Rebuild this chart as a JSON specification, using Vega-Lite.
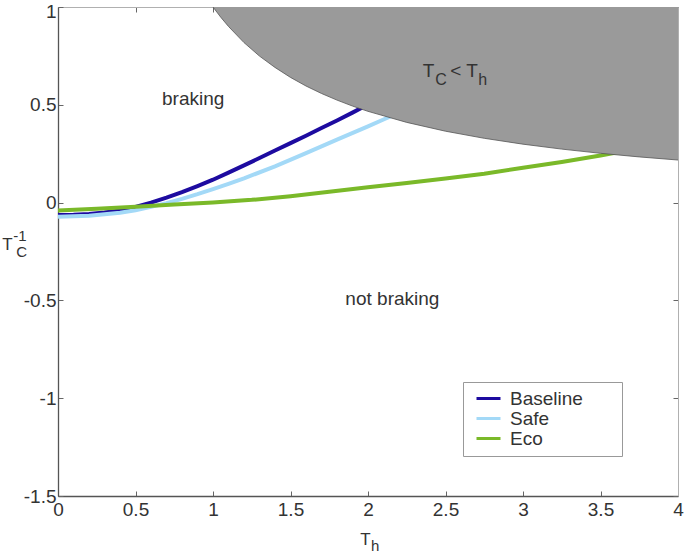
{
  "$schema": "https://vega.github.io/schema/vega-lite/v6.json",
  "autosize": {"type": "none"},
  "padding": {"left": 58, "top": 7, "right": 7, "bottom": 60},
  "width": 620,
  "height": 489,
  "config": {"font": "Liberation Sans", "view": {"stroke": null}},
  "datasets": {
    "curves": [
      {"series": "Baseline", "x": 0, "y": -0.064},
      {"series": "Baseline", "x": 0.1, "y": -0.062},
      {"series": "Baseline", "x": 0.2, "y": -0.058},
      {"series": "Baseline", "x": 0.3, "y": -0.051},
      {"series": "Baseline", "x": 0.4, "y": -0.04},
      {"series": "Baseline", "x": 0.5, "y": -0.022},
      {"series": "Baseline", "x": 0.6, "y": 0.0},
      {"series": "Baseline", "x": 0.7, "y": 0.025},
      {"series": "Baseline", "x": 0.8, "y": 0.053},
      {"series": "Baseline", "x": 0.9, "y": 0.084},
      {"series": "Baseline", "x": 1.0, "y": 0.117},
      {"series": "Baseline", "x": 1.1, "y": 0.153},
      {"series": "Baseline", "x": 1.2, "y": 0.19},
      {"series": "Baseline", "x": 1.3, "y": 0.228},
      {"series": "Baseline", "x": 1.4, "y": 0.266},
      {"series": "Baseline", "x": 1.5, "y": 0.304},
      {"series": "Baseline", "x": 1.6, "y": 0.342},
      {"series": "Baseline", "x": 1.7, "y": 0.381},
      {"series": "Baseline", "x": 1.8, "y": 0.42},
      {"series": "Baseline", "x": 1.9, "y": 0.46},
      {"series": "Baseline", "x": 1.96, "y": 0.485},
      {"series": "Safe", "x": 0, "y": -0.072},
      {"series": "Safe", "x": 0.2, "y": -0.067},
      {"series": "Safe", "x": 0.4, "y": -0.052},
      {"series": "Safe", "x": 0.5, "y": -0.039},
      {"series": "Safe", "x": 0.6, "y": -0.022},
      {"series": "Safe", "x": 0.7, "y": -0.003},
      {"series": "Safe", "x": 0.8, "y": 0.019},
      {"series": "Safe", "x": 0.9, "y": 0.043},
      {"series": "Safe", "x": 1.0, "y": 0.069},
      {"series": "Safe", "x": 1.1, "y": 0.096},
      {"series": "Safe", "x": 1.2, "y": 0.124},
      {"series": "Safe", "x": 1.4, "y": 0.185},
      {"series": "Safe", "x": 1.6, "y": 0.253},
      {"series": "Safe", "x": 1.8, "y": 0.322},
      {"series": "Safe", "x": 2.0, "y": 0.39},
      {"series": "Safe", "x": 2.1, "y": 0.425},
      {"series": "Safe", "x": 2.2, "y": 0.46},
      {"series": "Eco", "x": 0, "y": -0.04},
      {"series": "Eco", "x": 0.25, "y": -0.032},
      {"series": "Eco", "x": 0.5, "y": -0.021},
      {"series": "Eco", "x": 0.75, "y": -0.01},
      {"series": "Eco", "x": 1.0, "y": 0.0},
      {"series": "Eco", "x": 1.25, "y": 0.014},
      {"series": "Eco", "x": 1.5, "y": 0.033},
      {"series": "Eco", "x": 1.75, "y": 0.055},
      {"series": "Eco", "x": 2.0, "y": 0.078},
      {"series": "Eco", "x": 2.25, "y": 0.1},
      {"series": "Eco", "x": 2.5, "y": 0.123},
      {"series": "Eco", "x": 2.75, "y": 0.148},
      {"series": "Eco", "x": 3.0, "y": 0.178},
      {"series": "Eco", "x": 3.25, "y": 0.208},
      {"series": "Eco", "x": 3.5, "y": 0.241},
      {"series": "Eco", "x": 3.62, "y": 0.258}
    ],
    "boundary": [
      {"x": 1.0, "y": 1.0},
      {"x": 1.05, "y": 0.9477},
      {"x": 1.1, "y": 0.9005},
      {"x": 1.2, "y": 0.818},
      {"x": 1.3, "y": 0.749},
      {"x": 1.4, "y": 0.691},
      {"x": 1.5, "y": 0.64},
      {"x": 1.6, "y": 0.596},
      {"x": 1.7, "y": 0.5578},
      {"x": 1.8, "y": 0.524},
      {"x": 1.9, "y": 0.4936},
      {"x": 2.0, "y": 0.4665},
      {"x": 2.25, "y": 0.41},
      {"x": 2.5, "y": 0.365},
      {"x": 2.75, "y": 0.3287},
      {"x": 3.0, "y": 0.2987},
      {"x": 3.25, "y": 0.2735},
      {"x": 3.5, "y": 0.252},
      {"x": 3.75, "y": 0.2336},
      {"x": 4.0, "y": 0.2177}
    ],
    "labels": [
      {"role": "main", "text": "braking", "x": 0.671, "y": 0.5},
      {"role": "main", "text": "not braking", "x": 1.854, "y": -0.523},
      {"role": "main", "text": "T", "x": 2.354, "y": 0.641},
      {"role": "main", "text": "< T", "x": 2.531, "y": 0.641},
      {"role": "sub", "text": "C", "x": 2.434, "y": 0.602},
      {"role": "sub", "text": "h", "x": 2.711, "y": 0.602},
      {"role": "title", "text": "T", "x": -0.36, "y": -0.242},
      {"role": "title", "text": "T", "x": 1.95, "y": -1.751},
      {"role": "titlesub", "text": "-1", "x": -0.288, "y": -0.194},
      {"role": "titlesub", "text": "C", "x": -0.269, "y": -0.28},
      {"role": "titlesub", "text": "h", "x": 2.019, "y": -1.78}
    ]
  },
  "resolve": {"axis": {"x": "independent", "y": "independent"}},
  "layer": [
    {
      "data": {"name": "curves"},
      "mark": {"type": "line", "strokeWidth": 4},
      "encoding": {
        "x": {"field": "x", "type": "quantitative", "scale": {"domain": [0, 4], "nice": false, "zero": false},
          "axis": {"orient": "bottom", "values": [0, 0.5, 1, 1.5, 2, 2.5, 3, 3.5, 4], "labelExpr": "'' + datum.value", "title": null, "grid": false,
            "labelFontSize": 19, "labelColor": "#333", "labelPadding": 9, "labelFlush": false, "labelOverlap": false,
            "tickSize": -5, "tickColor": "#666", "domainColor": "#555", "domainWidth": 1.3}},
        "y": {"field": "y", "type": "quantitative", "scale": {"domain": [-1.5, 1], "nice": false, "zero": false},
          "axis": {"orient": "left", "values": [-1.5, -1, -0.5, 0, 0.5, 1], "labelExpr": "'' + datum.value", "title": null, "grid": false,
            "labelFontSize": 19, "labelColor": "#333", "labelPadding": 7, "labelFlush": false, "labelOverlap": false,
            "labelOffset": {"condition": {"test": "datum.value === 1", "value": 4}, "value": 0},
            "tickSize": -5, "tickColor": "#666", "domainColor": "#555", "domainWidth": 1.3}},
        "color": {"field": "series", "type": "nominal",
          "scale": {"domain": ["Baseline", "Safe", "Eco"], "range": ["#1d0ba0", "#a3d9f7", "#7ab929"]},
          "legend": {"orient": "none", "legendX": 405, "legendY": 375, "title": null,
            "strokeColor": "#999", "fillColor": "white", "padding": 7,
            "symbolType": "M-1.6,0H1.6", "symbolSize": 225, "symbolStrokeWidth": 3, "symbolOffset": 9,
            "labelFontSize": 19, "labelColor": "#333", "labelOffset": 12, "rowPadding": -3,
            "labelExpr": "datum.label + '\u00a0\u00a0\u00a0\u00a0\u00a0\u00a0\u200b'"}}
      }
    },
    {
      "data": {"name": "boundary"},
      "mark": {"type": "area", "color": "#9a9a9a", "opacity": 1},
      "encoding": {
        "x": {"field": "x", "type": "quantitative", "scale": {"domain": [0, 4], "nice": false, "zero": false},
          "axis": {"orient": "top", "values": [0, 0.5, 1, 1.5, 2, 2.5, 3, 3.5, 4], "labels": false, "title": null, "grid": false,
            "tickSize": -5, "tickColor": "#666", "domainColor": "#b0b0b0", "domainWidth": 1}},
        "y": {"field": "y", "type": "quantitative", "scale": {"domain": [-1.5, 1], "nice": false, "zero": false},
          "axis": {"orient": "right", "values": [-1.5, -1, -0.5, 0, 0.5, 1], "labels": false, "title": null, "grid": false,
            "tickSize": -5, "tickColor": "#666", "domainColor": "#b0b0b0", "domainWidth": 1}},
        "y2": {"datum": 1}
      }
    },
    {
      "data": {"name": "boundary"},
      "mark": {"type": "line", "color": "#555555", "strokeWidth": 0.8},
      "encoding": {
        "x": {"field": "x", "type": "quantitative", "scale": {"domain": [0, 4], "nice": false, "zero": false}, "axis": null},
        "y": {"field": "y", "type": "quantitative", "scale": {"domain": [-1.5, 1], "nice": false, "zero": false}, "axis": null}
      }
    },
    {
      "data": {"name": "labels"},
      "transform": [{"filter": "datum.role === 'main'"}],
      "mark": {"type": "text", "align": "left", "baseline": "alphabetic", "fontSize": 19, "color": "#333"},
      "encoding": {
        "x": {"field": "x", "type": "quantitative", "scale": {"domain": [0, 4], "nice": false, "zero": false}, "axis": null},
        "y": {"field": "y", "type": "quantitative", "scale": {"domain": [-1.5, 1], "nice": false, "zero": false}, "axis": null},
        "text": {"field": "text"}
      }
    },
    {
      "data": {"name": "labels"},
      "transform": [{"filter": "datum.role === 'sub'"}],
      "mark": {"type": "text", "align": "left", "baseline": "alphabetic", "fontSize": 16, "color": "#333"},
      "encoding": {
        "x": {"field": "x", "type": "quantitative", "scale": {"domain": [0, 4], "nice": false, "zero": false}, "axis": null},
        "y": {"field": "y", "type": "quantitative", "scale": {"domain": [-1.5, 1], "nice": false, "zero": false}, "axis": null},
        "text": {"field": "text"}
      }
    },
    {
      "data": {"name": "labels"},
      "transform": [{"filter": "datum.role === 'title'"}],
      "mark": {"type": "text", "align": "left", "baseline": "alphabetic", "fontSize": 17, "color": "#333"},
      "encoding": {
        "x": {"field": "x", "type": "quantitative", "scale": {"domain": [0, 4], "nice": false, "zero": false}, "axis": null},
        "y": {"field": "y", "type": "quantitative", "scale": {"domain": [-1.5, 1], "nice": false, "zero": false}, "axis": null},
        "text": {"field": "text"}
      }
    },
    {
      "data": {"name": "labels"},
      "transform": [{"filter": "datum.role === 'titlesub'"}],
      "mark": {"type": "text", "align": "left", "baseline": "alphabetic", "fontSize": 15, "color": "#333"},
      "encoding": {
        "x": {"field": "x", "type": "quantitative", "scale": {"domain": [0, 4], "nice": false, "zero": false}, "axis": null},
        "y": {"field": "y", "type": "quantitative", "scale": {"domain": [-1.5, 1], "nice": false, "zero": false}, "axis": null},
        "text": {"field": "text"}
      }
    }
  ]
}
